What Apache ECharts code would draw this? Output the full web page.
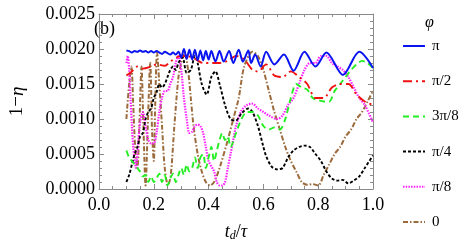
<!DOCTYPE html>
<html>
<head>
<meta charset="utf-8">
<script src="https://cdn.jsdelivr.net/npm/echarts@6/dist/echarts.min.js"></script>
<style>
html,body{margin:0;padding:0;background:#fff;}
#c{width:463px;height:247px;}
</style>
</head>
<body>
<div id="c"></div>
<script>
// ---- data (t_d/tau, 1-eta) ----
const seriesNames = ['π', 'π/2', '3π/8', 'π/4', 'π/8', '0'];
const xTicks = [0.0, 0.2, 0.4, 0.6, 0.8, 1.0];
const yTicks = [0.0000, 0.0005, 0.0010, 0.0015, 0.0020, 0.0025];

const piX = [0.1,0.11,0.12,0.13,0.14,0.15,0.16,0.17,0.18,0.19,0.2,0.21,0.22,0.23,0.24,0.25,0.26,0.27,0.28,0.29,0.3,0.31,0.32,0.33,0.34,0.35,0.36,0.37,0.38,0.39,0.4,0.41,0.425,0.44,0.455,0.475,0.49,0.51,0.525,0.545,0.555,0.57,0.59,0.61,0.64,0.675,0.71,0.75,0.79,0.83,0.89,0.95,1.0];
const piY = [0.00198,0.00197,0.00195,0.00197,0.00196,0.00198,0.00196,0.00197,0.00195,0.00197,0.00195,0.00197,0.00195,0.00193,0.00196,0.00194,0.00192,0.00195,0.00192,0.00196,0.00188,0.0020,0.00186,0.00199,0.00185,0.00199,0.00184,0.00198,0.00184,0.00197,0.00185,0.00197,0.00182,0.00197,0.00182,0.00197,0.0018,0.00199,0.00182,0.00198,0.0018,0.00192,0.00175,0.00196,0.00178,0.00192,0.00169,0.00196,0.00175,0.00195,0.00163,0.00196,0.00173];

const pi2X = [0.1,0.12,0.14,0.16,0.19,0.21,0.24,0.26,0.29,0.32,0.35,0.38,0.41,0.44,0.47,0.5,0.53,0.56,0.58,0.61,0.64,0.67,0.7,0.73,0.76,0.79,0.82,0.85,0.88,0.91,0.94,0.97,1.0];
const pi2Y = [0.00162,0.00168,0.00175,0.00172,0.00175,0.00178,0.00176,0.00182,0.00189,0.0019,0.00186,0.0018,0.0018,0.0018,0.00183,0.0019,0.00185,0.0017,0.00168,0.00178,0.00162,0.0016,0.00168,0.0016,0.0015,0.0013,0.0013,0.00145,0.0015,0.0015,0.00135,0.00125,0.0012];

const pi38X = [0.1,0.11,0.12,0.13,0.14,0.15,0.16,0.17,0.18,0.19,0.2,0.21,0.22,0.23,0.24,0.25,0.26,0.27,0.28,0.29,0.3,0.31,0.32,0.33,0.34,0.35,0.36,0.37,0.38,0.39,0.4,0.41,0.42,0.43,0.44,0.45,0.46,0.47,0.48,0.5,0.52,0.54,0.56,0.58,0.6,0.62,0.64,0.66,0.68,0.7,0.72,0.74,0.76,0.78,0.8,0.82,0.84,0.86,0.88,0.9,0.92,0.94,0.96,0.98,1.0];
const pi38Y = [0.00055,0.00045,0.0004,0.00035,0.0003,0.00025,0.00018,0.0002,0.0001,0.00018,0.0001,0.00015,0.00022,0.0001,0.0002,0.00005,0.00015,0.00022,0.0001,0.0002,0.0003,0.0002,0.00035,0.00025,0.0003,0.00045,0.0003,0.00045,0.0005,0.0003,0.00045,0.0006,0.0004,0.00055,0.0007,0.0008,0.0007,0.00075,0.0006,0.0008,0.001,0.0011,0.0011,0.00105,0.0009,0.00085,0.00088,0.00085,0.001,0.0013,0.0015,0.00145,0.00142,0.0013,0.00127,0.00125,0.00125,0.0014,0.0015,0.0016,0.0017,0.00178,0.00183,0.0018,0.00173];

const pi4X = [0.1,0.11,0.12,0.13,0.14,0.15,0.16,0.17,0.18,0.19,0.2,0.21,0.22,0.23,0.24,0.25,0.26,0.27,0.28,0.29,0.305,0.32,0.335,0.35,0.36,0.375,0.393,0.41,0.425,0.44,0.46,0.48,0.5,0.52,0.545,0.56,0.58,0.6,0.61,0.63,0.65,0.67,0.69,0.71,0.73,0.75,0.77,0.79,0.81,0.83,0.85,0.87,0.89,0.91,0.93,0.95,0.97,1.0];
const pi4Y = [0.0001,0.0002,0.00035,0.0005,0.0006,0.00075,0.0008,0.001,0.0011,0.00115,0.0013,0.00138,0.0015,0.00145,0.0015,0.0016,0.0017,0.00175,0.0017,0.0018,0.00188,0.00166,0.0017,0.0019,0.0018,0.0015,0.00135,0.0016,0.00168,0.0015,0.0012,0.001,0.00098,0.00108,0.00115,0.0011,0.0009,0.0006,0.00047,0.00032,0.00028,0.0003,0.00045,0.00055,0.0006,0.00062,0.0006,0.0005,0.0004,0.00025,0.00015,0.00012,0.00013,0.00008,0.00012,0.00018,0.0003,0.00048];

const pi8X = [0.1,0.105,0.11,0.115,0.12,0.125,0.13,0.135,0.14,0.15,0.16,0.17,0.18,0.19,0.2,0.21,0.22,0.23,0.24,0.25,0.26,0.27,0.28,0.29,0.3,0.31,0.32,0.33,0.34,0.35,0.36,0.37,0.38,0.39,0.4,0.42,0.43,0.44,0.45,0.46,0.47,0.48,0.49,0.5,0.52,0.54,0.56,0.58,0.6,0.62,0.65,0.67,0.69,0.71,0.73,0.75,0.77,0.79,0.81,0.83,0.85,0.87,0.89,0.91,0.93,0.95,0.97,1.0];
const pi8Y = [0.0018,0.0019,0.0017,0.0013,0.0009,0.0006,0.0004,0.0003,0.0005,0.00095,0.0011,0.0009,0.0007,0.00065,0.00065,0.0008,0.0011,0.0013,0.0014,0.0014,0.0015,0.0016,0.0018,0.0019,0.0017,0.0013,0.001,0.0008,0.00082,0.0009,0.00092,0.0009,0.0008,0.0006,0.0004,0.00025,0.0001,0.00005,0.00005,0.0001,0.0003,0.0005,0.0007,0.0009,0.00112,0.0012,0.00122,0.00115,0.0011,0.00105,0.001,0.00105,0.0012,0.0013,0.0015,0.0017,0.0018,0.0018,0.0019,0.0019,0.0018,0.00175,0.0017,0.0016,0.00145,0.0013,0.0012,0.00095];

const zeroX = [0.1,0.11,0.118,0.125,0.132,0.14,0.148,0.155,0.162,0.17,0.178,0.187,0.194,0.2,0.205,0.212,0.22,0.23,0.24,0.252,0.262,0.275,0.29,0.3,0.312,0.325,0.335,0.345,0.36,0.375,0.39,0.405,0.42,0.44,0.47,0.49,0.51,0.53,0.56,0.58,0.6,0.62,0.64,0.66,0.68,0.7,0.72,0.74,0.76,0.78,0.8,0.82,0.84,0.86,0.88,0.9,0.92,0.94,0.96,0.98,1.0];
const zeroY = [0.001,0.0015,0.00175,0.0012,0.0006,0.0003,0.001,0.00175,0.0009,0.00005,0.0009,0.0018,0.0008,0.0004,0.0012,0.00195,0.0015,0.0009,0.0003,0.00005,0.0002,0.0009,0.0016,0.0018,0.00196,0.0017,0.0013,0.0009,0.0005,0.00025,0.0001,0.00005,0.0001,0.0003,0.0007,0.001,0.0013,0.00175,0.00196,0.0019,0.0017,0.0014,0.0011,0.00085,0.0006,0.0004,0.00025,0.0001,0.00006,0.00007,0.00005,0.0002,0.00035,0.0005,0.0006,0.00075,0.00085,0.001,0.0011,0.00125,0.0014];

const allX = [piX, pi2X, pi38X, pi4X, pi8X, zeroX];
const allY = [piY, pi2Y, pi38Y, pi4Y, pi8Y, zeroY];

// ---- styles ----
const colors = ['#0a14f0', '#f01010', '#22ee22', '#000000', '#ff22ff', '#9c6b3c'];
const dashes = ['solid', [9, 4, 2, 4], [6, 4], [3, 2], [1.5, 1.2], [5, 2, 1.5, 2]];
const widths = [2, 1.9, 1.9, 1.9, 2.2, 2];
const SERIF = '"Liberation Serif", "DejaVu Serif", serif';
const axisGrey = '#8a8a8a';

const series = seriesNames.map((n, i) => ({
  name: n,
  type: 'line',
  showSymbol: false,
  symbol: 'none',
  smooth: 0.3,
  data: allX[i].map((x, j) => [x, allY[i][j]]),
  lineStyle: { color: colors[i], type: dashes[i], width: widths[i] },
  itemStyle: { color: colors[i] },
  z: 10 - i
}));

function xAx(pos, showLabel) {
  return {
    type: 'value', position: pos, min: 0, max: 1, interval: 0.2,
    axisLine: { show: true, onZero: false, lineStyle: { color: axisGrey, width: 1 } },
    axisTick: { show: true, inside: true, length: 5, lineStyle: { color: axisGrey } },
    minorTick: { show: true, splitNumber: 4, length: 3, lineStyle: { color: axisGrey } },
    splitLine: { show: false },
    axisLabel: { show: showLabel, margin: 7, color: '#000', fontFamily: SERIF, fontSize: 18,
      formatter: v => v.toFixed(1) }
  };
}
function yAx(pos, showLabel) {
  return {
    type: 'value', position: pos, min: 0, max: 0.0025, interval: 0.0005,
    axisLine: { show: true, onZero: false, lineStyle: { color: axisGrey, width: 1 } },
    axisTick: { show: true, inside: true, length: 5, lineStyle: { color: axisGrey } },
    minorTick: { show: true, splitNumber: 5, length: 3, lineStyle: { color: axisGrey } },
    splitLine: { show: false },
    axisLabel: { show: showLabel, margin: 4, color: '#000', fontFamily: SERIF, fontSize: 18,
      formatter: v => v.toFixed(4) }
  };
}

const xBottom = xAx('bottom', true);
xBottom.name = '{i|t}{s|d}{n|/}{i|τ}';
xBottom.nameLocation = 'middle';
xBottom.nameGap = 33;
xBottom.nameTextStyle = {
  rich: {
    i: { fontFamily: SERIF, fontStyle: 'italic', fontSize: 18, color: '#000' },
    n: { fontFamily: SERIF, fontSize: 18, color: '#000' },
    s: { fontFamily: SERIF, fontStyle: 'italic', fontSize: 12, color: '#000', verticalAlign: 'bottom', padding: [8, 0, 0, 0] }
  }
};
const yLeft = yAx('left', true);
yLeft.name = '{n|1−}{i|η}';
yLeft.nameLocation = 'middle';
yLeft.nameGap = 72;
yLeft.nameRotate = 90;
yLeft.nameTextStyle = {
  rich: {
    n: { fontFamily: SERIF, fontSize: 19, color: '#000' },
    i: { fontFamily: SERIF, fontStyle: 'italic', fontSize: 19, color: '#000' }
  }
};

const chart = echarts.init(document.getElementById('c'), null, { renderer: 'canvas' });
chart.setOption({
  animation: false,
  backgroundColor: '#fff',
  grid: { left: 88, right: 90, top: 14, bottom: 57, containLabel: false },
  xAxis: [xBottom, xAx('top', false)],
  yAxis: [yLeft, yAx('right', false)],
  title: {
    text: 'φ', left: 420, top: 10,
    textStyle: { fontFamily: SERIF, fontStyle: 'italic', fontWeight: 'normal', fontSize: 16, color: '#000' }
  },
  legend: {
    orient: 'vertical', left: 397, top: 33,
    itemWidth: 22, itemHeight: 10, itemGap: 19.2,
    data: seriesNames,
    itemStyle: { opacity: 0 },
    textStyle: { fontFamily: SERIF, fontSize: 15, color: '#000', lineHeight: 16, padding: [0, 0, 0, 2] },
    selectedMode: false
  },
  graphic: [{
    type: 'text', left: 94, top: 20,
    style: { text: '(b)', font: '18px ' + SERIF, fill: '#000' }
  }],
  series: series
});
</script>
</body>
</html>
